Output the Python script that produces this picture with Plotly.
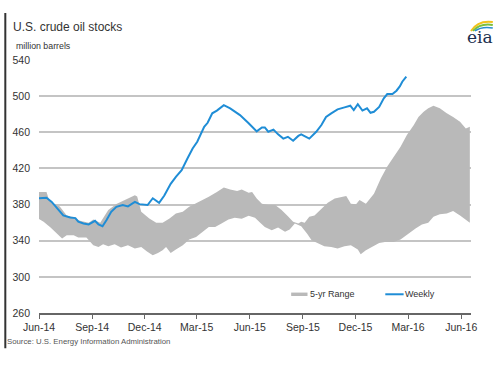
import plotly.graph_objects as go

# ---- data ----
weekly_dates = ["2014-06-01","2014-06-14","2014-06-23","2014-07-05","2014-07-13","2014-07-25","2014-08-03",
    "2014-08-08","2014-08-17","2014-08-26","2014-09-06","2014-09-12","2014-09-19","2014-09-26","2014-10-04",
    "2014-10-13","2014-10-24","2014-11-02","2014-11-14","2014-11-22","2014-12-06","2014-12-15","2014-12-26",
    "2015-01-04","2015-01-15","2015-01-24","2015-02-03","2015-02-13","2015-02-22","2015-03-02","2015-03-14",
    "2015-03-20","2015-03-28","2015-04-05","2015-04-17","2015-04-28","2015-05-15","2015-05-30","2015-06-13",
    "2015-06-22","2015-06-27","2015-07-03","2015-07-12","2015-07-20","2015-07-29","2015-08-06","2015-08-15",
    "2015-08-24","2015-08-29","2015-09-12","2015-09-24","2015-10-03","2015-10-11","2015-10-20","2015-10-31",
    "2015-11-12","2015-11-22","2015-11-28","2015-12-05","2015-12-13","2015-12-21","2015-12-27","2016-01-02",
    "2016-01-11","2016-01-19","2016-01-25","2016-02-03","2016-02-10","2016-02-16","2016-02-20","2016-02-27"]
weekly_values = [387, 387.5, 383, 374, 368, 365.7, 365,
    361, 359, 358, 362, 358, 356, 363, 372,
    377.5, 379.5, 378, 383, 380.5, 379.5, 387, 382,
    390, 403, 410.7, 418, 431, 442, 449.5, 466,
    470.5, 481, 484, 490, 486.5, 479, 470, 461,
    465.4, 465.4, 460.6, 463, 457.7, 453, 455, 450.6,
    456, 457.7, 453, 460.6, 468, 477, 481, 485.4,
    487.6, 489.4, 484.6, 491, 484, 486.5, 481.6, 482.7,
    488, 497.5, 502.3, 502.3, 506, 511, 516, 521.5]

range_high_dates = ["2014-06-01","2014-06-14","2014-06-18","2014-06-27","2014-07-07","2014-07-19","2014-07-31",
    "2014-08-11","2014-08-26","2014-09-03","2014-09-15","2014-09-29","2014-10-13","2014-10-24","2014-11-05",
    "2014-11-14","2014-11-18","2014-11-25","2014-12-09","2014-12-21","2015-01-01","2015-01-13","2015-01-24",
    "2015-02-05","2015-02-16","2015-03-05","2015-03-22","2015-04-05","2015-04-17","2015-04-28","2015-05-10",
    "2015-05-18","2015-05-30","2015-06-05","2015-06-13","2015-06-22","2015-07-03","2015-07-15","2015-07-26",
    "2015-08-06","2015-08-15","2015-08-24","2015-08-29","2015-09-04","2015-09-12","2015-09-21","2015-10-03",
    "2015-10-14","2015-10-26","2015-11-06","2015-11-15","2015-11-23","2015-12-02","2015-12-08","2015-12-19",
    "2016-01-02","2016-01-14","2016-01-25","2016-02-05","2016-02-17","2016-02-28","2016-03-11","2016-03-19",
    "2016-03-28","2016-04-05","2016-04-14","2016-04-25","2016-05-07","2016-05-18","2016-05-30","2016-06-09",
    "2016-06-16"]
range_high = [394, 394, 386, 381, 378, 368, 366,
    362, 360, 363.5, 360, 374, 380.5, 384, 387,
    390.4, 389, 372, 364.6, 359.8, 360, 364.6, 370,
    372, 377.5, 383, 388.6, 394, 399, 396.7, 395,
    396.7, 393, 394, 386.8, 381, 379.5, 379.5, 374,
    367, 361, 359, 361, 360, 366.4, 368, 375.6,
    382, 386.8, 388, 389.4, 381, 380.4, 385, 381,
    392, 409, 422, 433, 444, 457, 468, 477,
    482.7, 486.5, 489.4, 486.5, 481, 477, 471.6, 464.3,
    466]

range_low_dates = ["2014-06-01","2014-06-09","2014-06-21","2014-07-02","2014-07-11","2014-07-19","2014-07-31",
    "2014-08-08","2014-08-22","2014-09-03","2014-09-12","2014-09-20","2014-09-29","2014-10-10","2014-10-21",
    "2014-11-02","2014-11-14","2014-11-25","2014-12-05","2014-12-15","2014-12-24","2015-01-01","2015-01-07",
    "2015-01-15","2015-01-24","2015-02-05","2015-02-16","2015-02-28","2015-03-11","2015-03-22","2015-04-02",
    "2015-04-13","2015-04-25","2015-05-06","2015-05-18","2015-05-30","2015-06-10","2015-06-19","2015-06-27",
    "2015-07-09","2015-07-20","2015-08-01","2015-08-09","2015-08-18","2015-08-29","2015-09-08","2015-09-16",
    "2015-09-27","2015-10-08","2015-10-20","2015-10-31","2015-11-12","2015-11-23","2015-12-05","2015-12-10",
    "2015-12-19","2015-12-30","2016-01-11","2016-01-21","2016-02-05","2016-02-17","2016-03-02","2016-03-14",
    "2016-03-25","2016-04-05","2016-04-14","2016-04-25","2016-05-07","2016-05-18","2016-05-30","2016-06-07",
    "2016-06-16"]
range_low = [364, 361, 354.6, 348, 342.4, 346, 346,
    343.5, 343.5, 335, 333, 336, 334, 336, 332.5,
    335, 331.3, 333, 328, 324, 326.5, 329.5, 333,
    326.5, 330.3, 335, 341.3, 344, 349.8, 355.3, 355.3,
    359, 363.5, 365.4, 364.3, 367.7, 365.4, 360, 355.3,
    351.6, 354.6, 349.8, 352.4, 359, 356, 348, 340.6,
    337.6, 334, 333, 331.3, 334, 335, 330.3, 325,
    329.5, 333, 337.6, 338.7, 338.7, 341.3, 348, 353.5,
    358, 359.8, 366.4, 369.4, 370, 373, 368, 364.6,
    359.8]

tick_dates = ["2014-06-01","2014-09-01","2014-12-01","2015-03-01","2015-06-01","2015-09-01",
              "2015-12-01","2016-03-01","2016-06-01"]
tick_labels = ["Jun-14","Sep-14","Dec-14","Mar-15","Jun-15","Sep-15","Dec-15","Mar-16","Jun-16"]
y_ticks = [260, 300, 340, 380, 420, 460, 500, 540]

FONT = "Liberation Sans, Arial, sans-serif"
GRAY = "#b9b9b9"
BLUE = "#1f8dd6"

fig = go.Figure()
fig.add_trace(go.Scatter(
    x=range_high_dates + range_low_dates[::-1],
    y=range_high + range_low[::-1],
    fill="toself", fillcolor=GRAY, line=dict(width=0, color=GRAY),
    mode="lines", name="5-yr Range", showlegend=False, hoverinfo="skip"))
fig.add_trace(go.Scatter(
    x=weekly_dates, y=weekly_values, mode="lines",
    line=dict(color=BLUE, width=2), name="Weekly", showlegend=False))

# plot area in pixels: x 35..471, y 60..312.7
L, R, T, B = 35, 471, 60, 312.7
W, H = R - L, B - T
def px(x):
    return (x - L) / W
def py(y):
    return (B - y) / H

fig.update_layout(
    width=500, height=365,
    margin=dict(l=L, r=500 - R, t=T, b=365 - B, pad=0),
    paper_bgcolor="white", plot_bgcolor="white",
    font=dict(family=FONT, color="#333333", size=10),
    xaxis=dict(type="date", range=["2014-06-01", "2016-06-18"],
               tickmode="array", tickvals=tick_dates, ticktext=tick_labels,
               showgrid=False, zeroline=False,
               showline=True, linecolor="#666666", linewidth=1.5,
               ticks="outside", ticklen=4, tickcolor="#666666", tickwidth=1,
               tickfont=dict(size=10.5, color="#333333")),
    yaxis=dict(range=[260, 540], tickmode="array", tickvals=y_ticks,
               showgrid=True, gridcolor="#c4c4c4", gridwidth=1.5,
               zeroline=False, showline=False, ticks="",
               ticklabelstandoff=8,
               tickfont=dict(size=10.5, color="#333333")),
    showlegend=False,
)

annotations = [
    dict(text="U.S. crude oil stocks", x=px(7), y=py(27), xanchor="left", yanchor="middle",
         font=dict(size=12, color="#333333")),
    dict(text="million barrels", x=px(10), y=py(46), xanchor="left", yanchor="middle",
         font=dict(size=8.8, color="#333333")),
    dict(text="Source: U.S. Energy Information Administration", x=px(0.5), y=py(341),
         xanchor="left", yanchor="middle", font=dict(size=7.8, color="#555555")),
    dict(text="5-yr Range", x=px(306), y=py(294), xanchor="left", yanchor="middle",
         font=dict(size=9, color="#333333")),
    dict(text="Weekly", x=px(402), y=py(294), xanchor="left", yanchor="middle",
         font=dict(size=9, color="#333333")),
    dict(text="eia", x=px(480), y=py(37), xanchor="center", yanchor="middle",
         font=dict(size=17, color="#1b2f4e", family="DejaVu Serif, Liberation Serif, serif")),
]
for a in annotations:
    a.update(xref="paper", yref="paper", showarrow=False)
fig.update_layout(annotations=annotations)

shapes = [
    # legend swatches
    dict(type="rect", x0=px(289.5), x1=px(306), y0=py(292.3), y1=py(295.7),
         fillcolor=GRAY, line=dict(width=0)),
    dict(type="line", x0=px(384.5), x1=px(403), y0=py(294), y1=py(294),
         line=dict(color=BLUE, width=2)),
    # left frame edge
    dict(type="line", x0=px(1), x1=px(1), y0=py(13), y1=py(348),
         line=dict(color="#333333", width=2)),
    # eia logo swooshes
    dict(type="path", path=f"M {px(471)} {py(31)} Q {px(478)} {py(20)} {px(493)} {py(22)}",
         line=dict(color="#f2c21b", width=2)),
    dict(type="path", path=f"M {px(473)} {py(31)} Q {px(480)} {py(23)} {px(493)} {py(25)}",
         line=dict(color="#7cbf3a", width=2)),
    dict(type="path", path=f"M {px(475)} {py(31)} Q {px(482)} {py(26)} {px(493)} {py(28)}",
         line=dict(color="#2a8fcf", width=1.5)),
]
for s in shapes:
    s.update(xref="paper", yref="paper")
fig.update_layout(shapes=shapes)

fig.write_html("out.html", config={"displayModeBar": False},
               post_script="document.body.style.margin='0';document.body.style.padding='0';")
